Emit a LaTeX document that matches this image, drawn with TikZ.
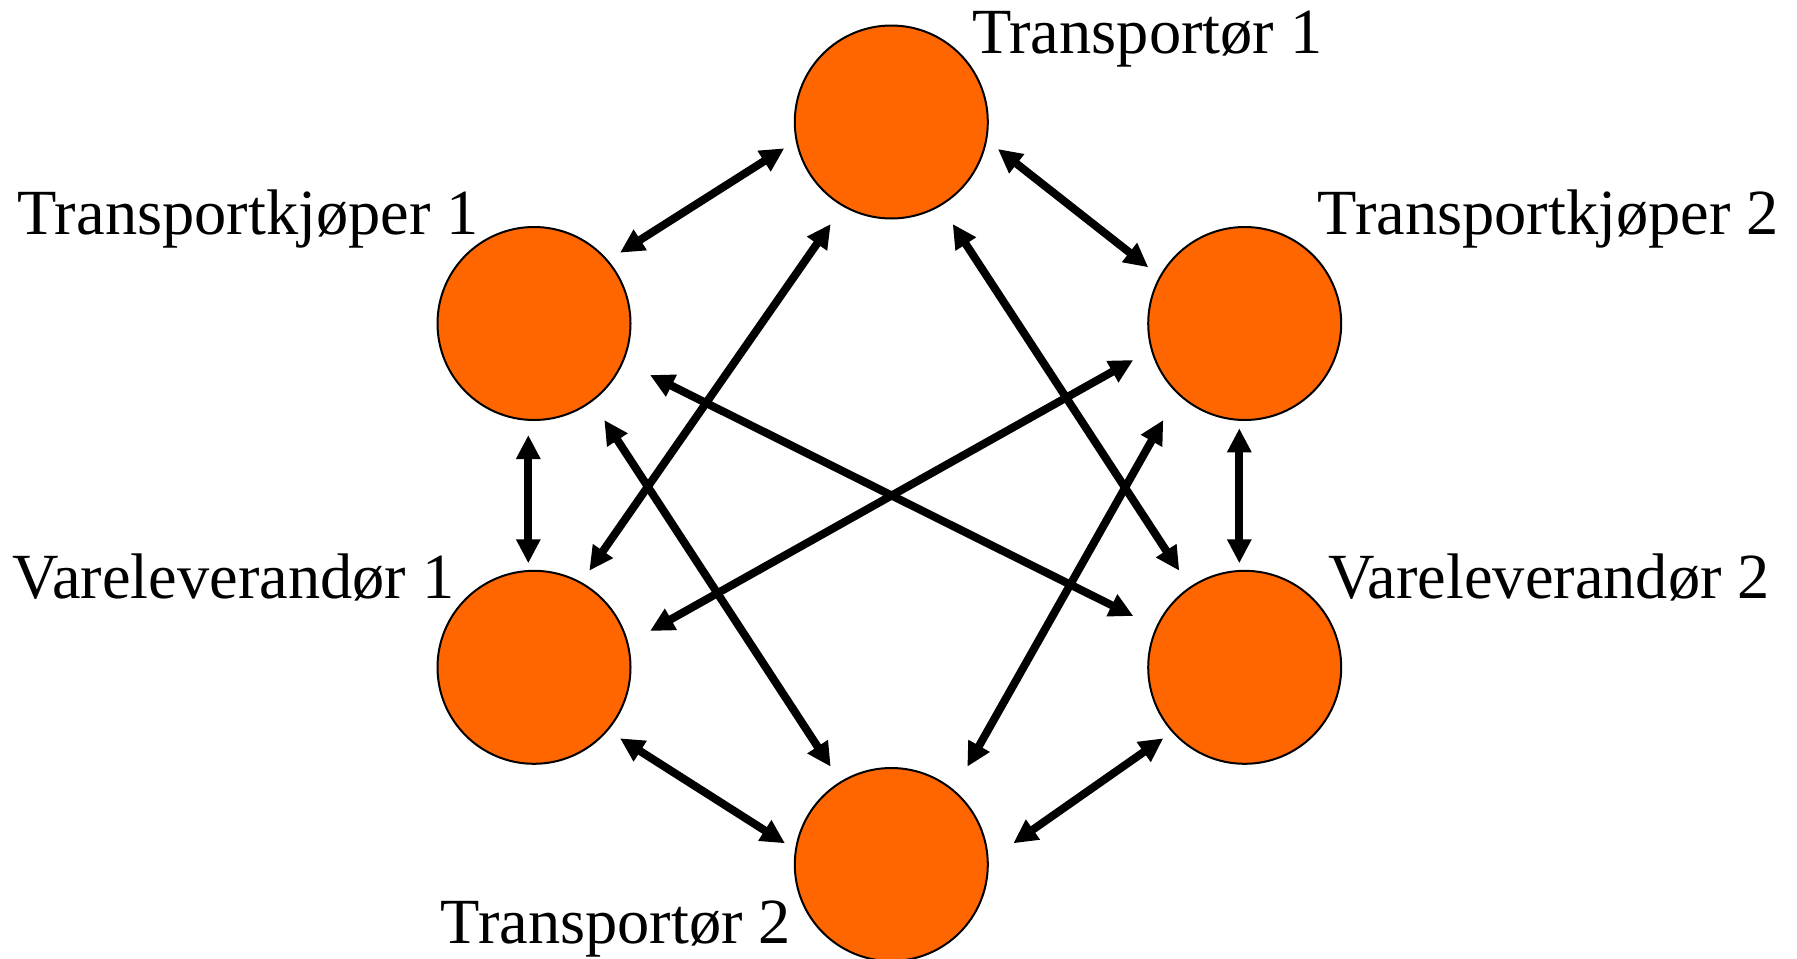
\documentclass[tikz,border=0pt]{standalone}
\usepackage{fontspec}
\setmainfont{Liberation Serif}
\usetikzlibrary{arrows.meta,calc}
\definecolor{nodeorange}{RGB}{255,102,0}
\begin{document}
\begin{tikzpicture}[x=0.5pt,y=-0.5pt,
  actor/.style={circle, draw=black, line width=1pt, fill=nodeorange, minimum size=96.5pt, inner sep=0pt, outer sep=0pt},
  lbl/.style={anchor=base west, inner sep=0pt, font=\fontsize{32.2pt}{37pt}\selectfont},
  link/.style={line width=4pt, {Triangle[length=12pt,width=11.5pt]}-{Triangle[length=12pt,width=11.5pt]}}]
\useasboundingbox (0,0) rectangle (1797,958);
% nodes
\node[actor] (T1)  at (891.3,122)   {};
\node[actor] (TK1) at (534,323.5)   {};
\node[actor] (TK2) at (1244.7,323.5) {};
\node[actor] (V1)  at (534,667.3)   {};
\node[actor] (V2)  at (1244.7,667.3) {};
\node[actor] (T2)  at (891.3,864.5) {};
% labels
\node[lbl] (lT1)  at (972,53.3)   {Transportør 1};
\node[lbl] (lTK1) at (17.5,234.3) {Transportkjøper 1};
\node[lbl] (lTK2) at (1317.5,234.3) {Transportkjøper 2};
\node[lbl] (lV1)  at (12.5,598)   {Vareleverandør 1};
\node[lbl] (lV2)  at (1328,598)   {Vareleverandør 2};
\node[lbl] (lT2)  at (440.5,943.3) {Transportør 2};
% connectors
\draw[link] ($(T1)+(-107,26.3)$) -- ($(TK1)+(86,-70.8)$);
\draw[link] ($(T1)+(106.6,27)$) -- ($(TK2)+(-96.4,-56.2)$);
\draw[link] ($(T1)+(-60.6,102)$) -- ($(V1)+(55.3,-96.6)$);
\draw[link] ($(T1)+(61.4,102)$) -- ($(V2)+(-65.4,-96.6)$);
\draw[link] ($(TK1)+(116,51.5)$) -- ($(V2)+(-111.4,-51.3)$);
\draw[link] ($(TK1)+(70.3,96.5)$) -- ($(T2)+(-60.6,-97.8)$);
\draw[link] ($(TK1)+(-5.7,111.5)$) -- ($(V1)+(-5.7,-104)$);
\draw[link] ($(TK2)+(-111.4,36.5)$) -- ($(V1)+(116,-36.3)$);
\draw[link] ($(TK2)+(-5.4,104.8)$) -- ($(V2)+(-5.4,-104)$);
\draw[link] ($(TK2)+(-81.4,96.5)$) -- ($(T2)+(76,-97.8)$);
\draw[link] ($(V1)+(86,71)$) -- ($(T2)+(-106.3,-21.2)$);
\draw[link] ($(V2)+(-81.4,71)$) -- ($(T2)+(122,-21.2)$);
\end{tikzpicture}
\end{document}
